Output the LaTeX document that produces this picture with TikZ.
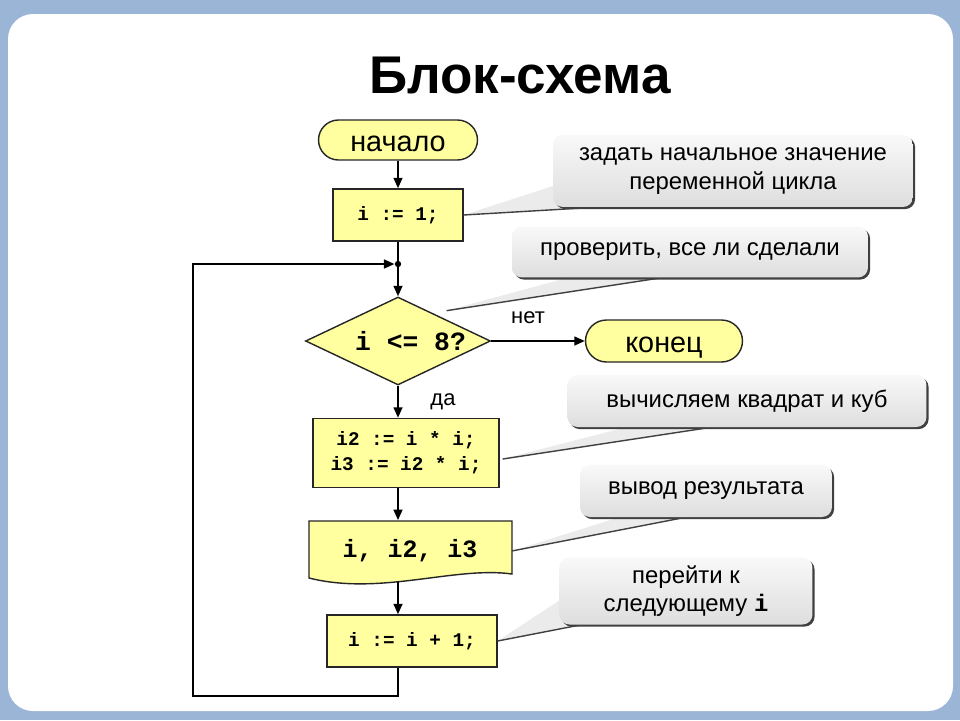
\documentclass[tikz,border=0pt]{standalone}
\usepackage{fontspec}
\setmainfont{Liberation Sans}
\setmonofont{Liberation Mono}
\usetikzlibrary{shapes.geometric, arrows.meta, shadows, calc}

\definecolor{slideblue}{RGB}{155,181,215}
\definecolor{boxyellow}{RGB}{255,255,160}

\begin{document}
\begin{tikzpicture}[x=0.02cm, y=-0.02cm,
        term/.style = {draw=black!85, line width=0.8pt, fill=boxyellow, rounded corners=0.4cm, minimum width=3.18cm, minimum height=0.8cm, text height=13.6pt, text depth=0pt, font=\fontsize{16.4}{19}\selectfont},
        box/.style = {draw=black!85, line width=0.8pt, fill=boxyellow, align=center, font=\ttfamily\bfseries\fontsize{11}{14}\selectfont},
        cond/.style = {diamond, draw=black!85, line width=0.8pt, fill=boxyellow, aspect=2.1, inner sep=0pt, minimum width=3.7cm, minimum height=1.76cm, font=\ttfamily\bfseries\fontsize{15}{17}\selectfont},
        note/.style = {rounded corners=0.2cm, top color=gray!5, bottom color=gray!26, drop shadow={shadow xshift=1.2pt, shadow yshift=-1.2pt, opacity=1, fill=black!75}, align=center, font=\fontsize{13.6}{16}\selectfont},
        tail/.style = {fill=gray!16},
        tailedge/.style = {draw=black!75, line width=0.8pt},
        lbl/.style = {anchor=base, font=\fontsize{12.5}{14}\selectfont},
        line/.style = {line width=1.2pt},
        arr/.style = {line width=1.2pt, -{Triangle[length=6pt, width=5pt]}}]
        \useasboundingbox (0, 0) rectangle (960, 720);
        % slide
        \fill[slideblue] (0, 0) rectangle (960, 720);
        \fill[white, rounded corners=0.5cm] (8, 14) rectangle (953, 711);
        \node[anchor=base, font=\bfseries\fontsize{30.2}{34}\selectfont] at (520, 93) (title) {Блок-схема};

        % flowchart
        \node[term] at (398, 140) (start) {начало};
        \node[box, minimum width=2.6cm, minimum height=1.04cm] at (398, 215) (b1) {i := 1;};
        \node[cond] at (398, 341) (dec) {\makebox[1.5cm]{\hspace*{0.5cm}i <= 8?}};
        \node[term, minimum width=3.14cm, minimum height=0.84cm, rounded corners=0.42cm] at (664, 341) (stop) {конец};
        \node[box, minimum width=3.72cm, minimum height=1.38cm] at (406, 453) (b2) {i2 := i * i;\\ i3 := i2 * i;};
        \draw[fill=boxyellow, draw=black!85, line width=0.8pt] (309, 521) -- (512, 521) -- (512, 574) .. controls (455, 566) and (380, 596) .. (309, 578) -- cycle;
        \node[minimum width=4.06cm, minimum height=1.22cm, font=\ttfamily\bfseries\fontsize{14.2}{16}\selectfont] at (410, 551) (out) {i, i2, i3};
        \node[box, minimum width=3.4cm, minimum height=1.04cm] at (412, 641) (b4) {i := i + 1;};

        \node[lbl] at (528, 323) (no) {нет};
        \node[lbl] at (443, 405) (yes) {да};

        \coordinate (spine) at (398, 0);
        \coordinate (join) at (398, 264);
        \coordinate (corner) at (193, 696);

        \draw[arr] (start) -- (b1);
        \draw[line] (b1) -- (join);
        \fill (join) circle (1.8pt);
        \draw[arr] (join) -- (dec);
        \draw[arr] (dec) -- (stop);
        \draw[arr] (dec.south) -- (dec.south |- b2.north);
        \draw[arr] (b2.south -| spine) -- (out.north -| spine);
        \draw[arr] (out.south -| spine) -- (b4.north -| spine);
        \draw[arr, shorten >=2pt] (b4.south -| spine) |- (corner) |- (join);

        % callouts
        \fill[tail] (b1.east) -- (553, 186) -- (600, 207) -- cycle;
        \draw[tailedge] (b1.east) -- (600, 207);
        \fill[tail] ($(dec.north east)+(2, -8)$) -- (567, 278) -- (660, 278) -- cycle;
        \draw[tailedge] ($(dec.north east)+(2, -8)$) -- (660, 278);
        \fill[tail] ($(b2.east)+(3, 6)$) -- (627, 427) -- (713, 427) -- cycle;
        \draw[tailedge] ($(b2.east)+(3, 6)$) -- (713, 427);
        \fill[tail] (out.east) -- (620, 517) -- (687, 517) -- cycle;
        \draw[tailedge] (out.east) -- (687, 517);
        \fill[tail] (b4.east) -- (560, 600) -- (580, 625) -- cycle;
        \draw[tailedge] (b4.east) -- (580, 625);

        \node[note, minimum width=7.2cm, minimum height=1.44cm] at (733, 171) (c1) {задать начальное значение\\ переменной цикла};
        \node[note, minimum width=7.12cm, minimum height=1.02cm] at (690, 252) (c2) {проверить, все ли сделали};
        \node[note, minimum width=7.18cm, minimum height=1.04cm] at (747, 401) (c3) {вычисляем квадрат и куб};
        \node[note, minimum width=5.04cm, minimum height=1.04cm] at (706, 491) (c4) {вывод результата};
        \node[note, minimum width=5.06cm, minimum height=1.34cm] at (686, 591) (c5) {перейти к\\ следующему {\ttfamily\bfseries i}};
    \end{tikzpicture}
\end{document}
